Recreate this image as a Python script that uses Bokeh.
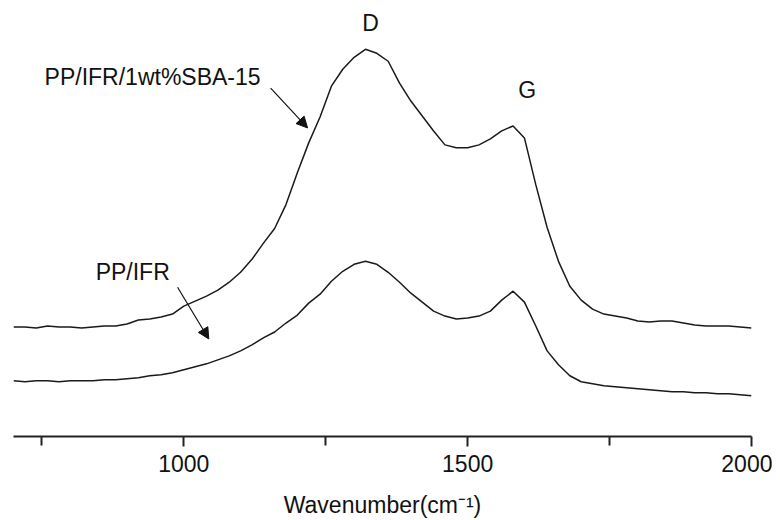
from bokeh.plotting import figure
from bokeh.models import Range1d, FixedTicker, Label, Arrow, NormalHead, ColumnDataSource
from bokeh.embed import file_html
from bokeh.resources import INLINE

# Raman spectra (arbitrary intensity units)
wavenumber = [700, 720, 740, 760, 780, 800, 820, 840, 860, 880,
              900, 920, 940, 960, 980, 1000, 1020, 1040, 1060, 1080,
              1100, 1120, 1140, 1160, 1180, 1200, 1220, 1240, 1260, 1280,
              1300, 1320, 1340, 1360, 1380, 1400, 1420, 1440, 1460, 1480,
              1500, 1520, 1540, 1560, 1580, 1600, 1620, 1640, 1660, 1680,
              1700, 1720, 1740, 1760, 1780, 1800, 1820, 1840, 1860, 1880,
              1900, 1920, 1940, 1960, 1980, 2000]

sba15 = [109, 109, 108, 110, 109, 109, 108, 109, 110, 110,
         112, 116, 117, 119, 122, 130, 135, 140, 146, 154,
         164, 177, 193, 208, 232, 264, 294, 320, 351, 368,
         380, 388, 384, 376, 354, 336, 321, 306, 292, 289,
         289, 292, 298, 306, 311, 299, 252, 209, 175, 150,
         136, 127, 122, 120, 118, 115, 114, 115, 115, 113,
         111, 110, 110, 110, 109, 108]

ppifr = [55, 54, 55, 55, 54, 55, 55, 55, 56, 56,
         57, 58, 60, 61, 63, 66, 69, 72, 76, 80,
         85, 91, 98, 104, 113, 121, 133, 142, 155, 165,
         172, 175, 172, 164, 154, 143, 134, 125, 120, 117,
         118, 120, 125, 136, 145, 134, 110, 85, 71, 60,
         54, 52, 50, 49, 48, 47, 46, 45, 44, 44,
         43, 43, 42, 42, 41, 40]

major_ticks = [1000, 1500, 2000]
minor_ticks = [750, 1250, 1750]

FONT = "Liberation Sans"
FS = "23px"

src = ColumnDataSource(dict(x=wavenumber, a=sba15, b=ppifr))

p = figure(width=772, height=520, output_backend="svg", toolbar_location=None,
           x_range=Range1d(700, 2000), y_range=Range1d(-1, 429),
           y_axis_location=None,
           min_border_left=13, min_border_right=21, min_border_top=8, min_border_bottom=82)
p.outline_line_color = None
p.grid.visible = False
p.background_fill_color = "white"

p.line("x", "a", source=src, line_color="#1a1a1a", line_width=1.5)
p.line("x", "b", source=src, line_color="#1a1a1a", line_width=1.5)

ax = p.xaxis[0]
ax.ticker = FixedTicker(ticks=major_ticks, minor_ticks=minor_ticks)
ax.axis_line_width = 2
ax.axis_line_color = "#222222"
ax.major_tick_line_width = 2
ax.minor_tick_line_width = 2
ax.major_tick_line_color = "#222222"
ax.minor_tick_line_color = "#222222"
ax.major_tick_out = 10
ax.major_tick_in = 0
ax.minor_tick_out = 9
ax.minor_tick_in = 0
ax.major_label_text_font = FONT
ax.major_label_text_font_size = FS
ax.major_label_text_color = "#111111"
ax.major_label_standoff = 8
ax.axis_label = "Wavenumber(cm\u207b\u00b9)"
ax.axis_label_text_font = FONT
ax.axis_label_text_font_size = FS
ax.axis_label_text_font_style = "normal"
ax.axis_label_text_color = "#111111"
ax.axis_label_standoff = 17

def lab(x, y, t):
    p.add_layout(Label(x=x, y=y, text=t, text_font=FONT, text_font_size=FS,
                       text_color="#111111", text_align="center", text_baseline="middle"))

lab(1329, 414, "D")
lab(1605, 347, "G")
lab(945, 360, "PP/IFR/1wt%SBA-15")
lab(910, 164, "PP/IFR")

for (x0, y0, x1, y1) in [(1153, 349, 1218, 309), (989, 149, 1044, 97)]:
    p.add_layout(Arrow(end=NormalHead(size=11, fill_color="#111111", line_color="#111111"),
                       x_start=x0, y_start=y0, x_end=x1, y_end=y1,
                       line_color="#111111", line_width=1.2))

open("out.html", "w").write(file_html(p, INLINE))
